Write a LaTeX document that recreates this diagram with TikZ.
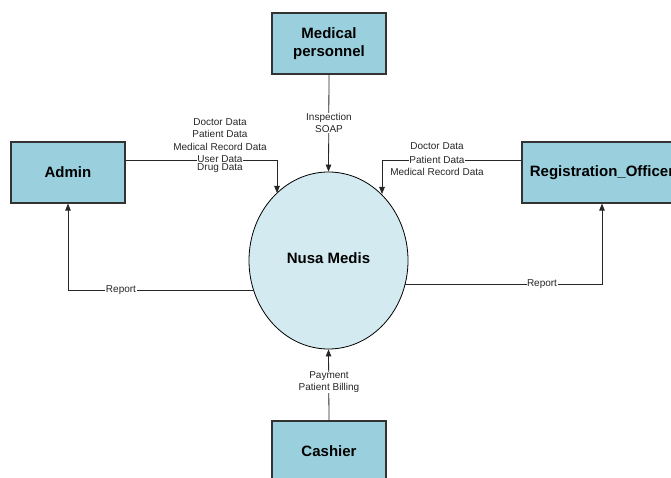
\documentclass[tikz,border=0pt]{standalone}
\usepackage{fontspec}
\setmainfont{Liberation Sans}
\usetikzlibrary{arrows.meta,shapes.geometric}
\definecolor{boxfill}{HTML}{9AD0DD}
\definecolor{ellfill}{HTML}{D3EBF0}
\definecolor{edge}{HTML}{333333}
\tikzset{
  entity/.style={draw=edge,line width=1.2pt,fill=boxfill,inner sep=0pt,
    minimum width=114pt,minimum height=61pt,align=center,
    font=\fontsize{15}{18}\selectfont\bfseries},
  proc/.style={draw=black,line width=0.8pt,fill=ellfill,ellipse,inner sep=0pt,
    minimum width=159pt,minimum height=177pt,
    font=\fontsize{15}{18}\selectfont\bfseries},
  flow/.style={draw=black!85,line width=0.8pt,-{Triangle[length=7pt,width=5.5pt]}},
  plain/.style={draw=black!85,line width=0.8pt},
  lbl/.style={inner sep=0.5pt,align=center,font=\fontsize{10}{12}\selectfont,text=black!85},
  lblw/.style={lbl,fill=white}
}
\begin{document}
\begin{tikzpicture}[x=1pt,y=-1pt]
\useasboundingbox (0,0) rectangle (671,478);
% nodes
\node[entity] (med) at (329,43.5) {Medical\\personnel};
\node[entity] (admin) at (68,172.5) {Admin};
\node[entity,minimum width=160pt] (reg) at (602,172.5) {Registration\_Officer};
\node[entity] (cash) at (329,451.5) {Cashier};
\node[proc] (ell) at (328.5,260.5) {};
\node[font=\fontsize{15}{18}\selectfont\bfseries] (title) at (328.5,258) {Nusa Medis};
% coordinates
\coordinate (a1) at (277,160);
\coordinate (a2) at (277,193);
\coordinate (r1) at (382,160);
\coordinate (r2) at (382,194);
\coordinate (l1) at (253.5,290);
\coordinate (l2) at (68,290);
\coordinate (q1) at (405,284);
\coordinate (q2) at (602,284);
% connectors
\draw[flow] (med.south) -- (ell.north);
\draw[flow] (admin.east |- a1) -- (a1) -- (a2);
\draw[flow] (reg.west |- r1) -- (r1) -- (r2);
\draw[flow] (cash.north) -- (ell.south);
\draw[flow] (l1) -- (l2) -- (admin.south);
\draw[flow] (q1) -- (q2) -- (reg.south);
% labels
\node[lblw] (lins) at (329,123) {Inspection\\SOAP};
\node[lbl] (ad1) at (220,122) {Doctor Data};
\node[lbl] (ad2) at (220,134) {Patient Data};
\node[lbl] (ad3) at (220,147) {Medical Record Data};
\node[lblw] (ad4) at (220,159.5) {User Data};
\node[lbl] (ad5) at (220,168.5) {Drug Data};
\node[lbl] (rg1) at (437,146) {Doctor Data};
\node[lblw] (rg2) at (437,159.5) {Patient Data};
\node[lbl] (rg3) at (437,172) {Medical Record Data};
\node[lblw] (rep1) at (121,290) {Report};
\node[lblw] (rep2) at (542,284) {Report};
\node[lblw] (pay) at (329,382.5) {Payment\\Patient Billing};
\end{tikzpicture}
\end{document}
